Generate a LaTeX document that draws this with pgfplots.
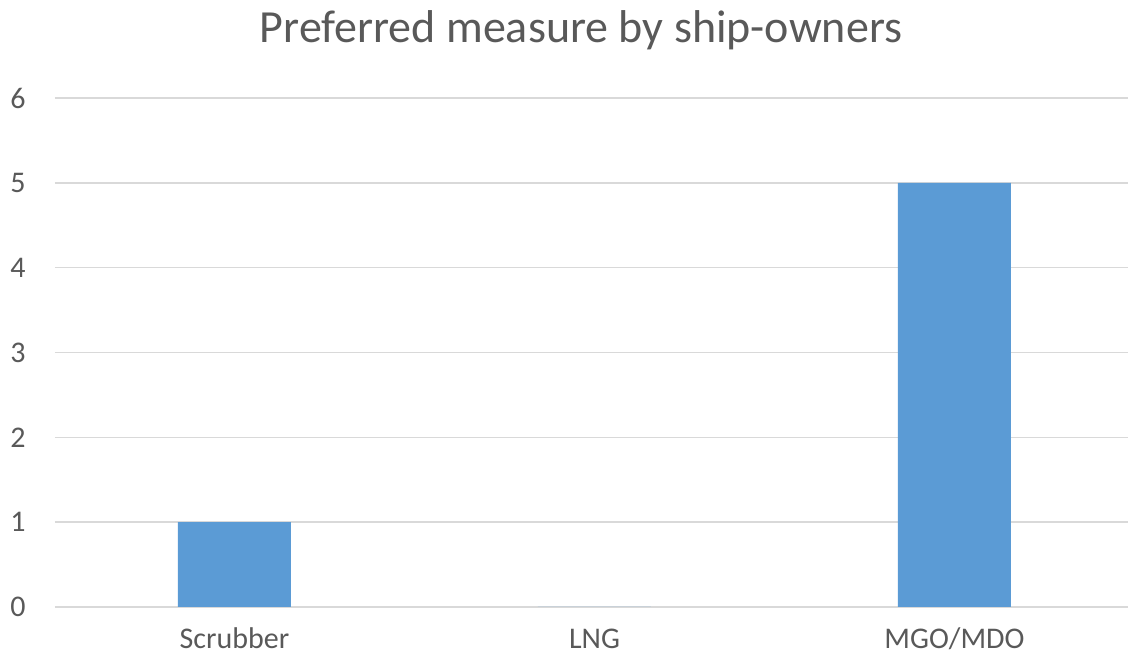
\documentclass[border=0pt]{standalone}
\usepackage{pgfplots}
\pgfplotsset{compat=1.18}
\usepackage{fontspec}
\setmainfont{Carlito}
\definecolor{barblue}{HTML}{5B9BD5}
\definecolor{gridgray}{HTML}{D9D9D9}
\definecolor{txtgray}{HTML}{595959}
\begin{document}
\begin{tikzpicture}[x=1pt,y=1pt]
\path[use as bounding box] (0,0) rectangle (564.5,328.5);
\begin{axis}[
  at={(27.5pt,25pt)}, anchor=south west,
  scale only axis, width=536.5pt, height=254.5pt,
  xmin=-0.4986, xmax=2.482, ymin=0, ymax=6,
  ytick={0,1,2,3,4,5,6},
  xtick={0,1,2}, xticklabels={Scrubber,LNG,MGO/MDO},
  ybar, bar width=56.5pt,
  axis line style={draw=none},
  major tick length=0pt,
  ymajorgrids, grid style={gridgray, line width=0.75pt},
  /pgf/number format/assume math mode=true,
  tick label style={font=\fontsize{15}{18}\selectfont, text=txtgray},
  yticklabel style={anchor=center, xshift=-18.5pt},
  xticklabel style={anchor=base, yshift=-21pt},
  clip=false,
]
\addplot[fill=barblue, draw=none] coordinates {(0,1) (1,0) (2,5)};
\end{axis}
\node[anchor=base, text=txtgray, font=\fontsize{23}{27}\selectfont, inner sep=0pt] at (290.5,307) {Preferred measure by ship-owners};
\end{tikzpicture}
\end{document}
